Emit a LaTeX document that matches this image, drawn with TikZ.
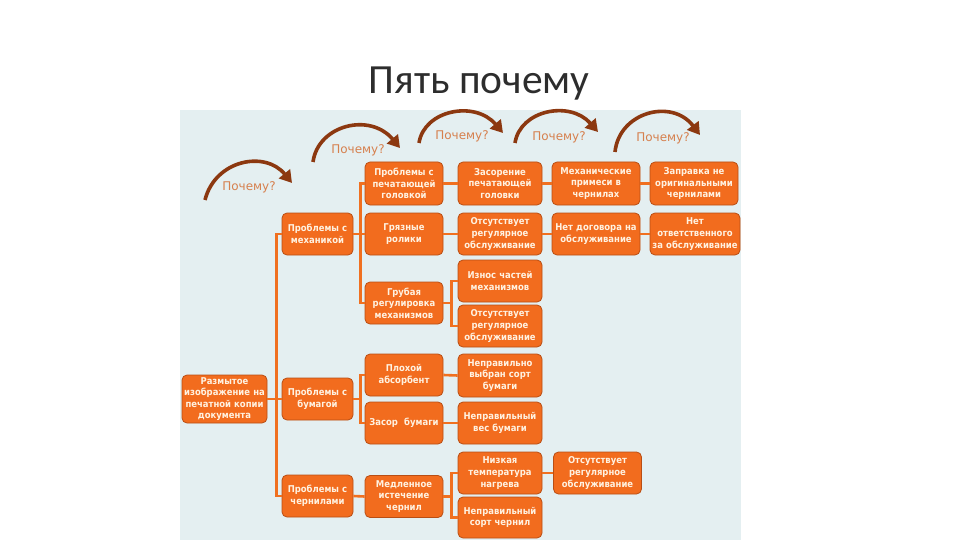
\documentclass[tikz,border=0pt]{standalone}
\usepackage{fontspec}
\setmainfont{DejaVu Sans}
\newfontfamily\titlefont{Carlito}
\newfontfamily\boxfont{DejaVu Sans}[FakeStretch=0.9]
\usetikzlibrary{arrows.meta}
\definecolor{panel}{RGB}{228,239,241}
\definecolor{boxfill}{RGB}{242,108,30}
\definecolor{boxedge}{RGB}{185,78,20}
\definecolor{boxtext}{RGB}{255,242,225}
\definecolor{linecol}{RGB}{240,112,32}
\definecolor{whycol}{RGB}{214,128,78}
\definecolor{arrcol}{RGB}{140,56,16}
\definecolor{titlecol}{RGB}{45,45,45}
\tikzset{
  box/.style={draw=boxedge, line width=0.8pt, fill=boxfill, rounded corners=5pt,
    text=boxtext, font=\boxfont\fontsize{9.4}{11.6}\selectfont\bfseries, align=center,
    inner sep=0pt, minimum height=42pt},
  w71/.style={minimum width=71pt, text width=71pt},
  w78/.style={minimum width=78pt, text width=78pt},
  w84/.style={minimum width=84pt, text width=84pt},
  w88/.style={minimum width=88pt, text width=88pt},
  link/.style={draw=linecol, line width=2.6pt},
  why/.style={text=whycol, font=\fontsize{12}{14}\selectfont},
  whyarrow/.style={draw=arrcol, line width=3.6pt, -{Triangle[length=12pt,width=14pt]}}
}
\begin{document}
\begin{tikzpicture}[x=1pt,y=-1pt]
\useasboundingbox (0,0) rectangle (960,540);
\fill[white] (0,0) rectangle (960,540);
\fill[panel] (180,110) rectangle (741,540);
\node[anchor=base, text=titlecol, font=\titlefont\fontsize{41.5}{46}\selectfont] (title) at (479,94) {Пять почему};

% why arrows
\draw[whyarrow] (205,200) .. controls (215,160) and (265,150) .. (292,183);
\draw[whyarrow] (313,162) .. controls (318,125) and (370,112) .. (400,148);
\draw[whyarrow] (419,143) .. controls (424,110) and (475,100) .. (503,133);
\draw[whyarrow] (515,143) .. controls (520,110) and (570,100) .. (598,132);
\draw[whyarrow] (615,152) .. controls (619,112) and (672,98) .. (700,135);
\node[why] (why1) at (249,187) {Почему?};
\node[why] (why2) at (358,150) {Почему?};
\node[why] (why3) at (462,136) {Почему?};
\node[why] (why4) at (559,137) {Почему?};
\node[why] (why5) at (663,138) {Почему?};

% boxes
\node[box, minimum width=85pt, text width=85pt, minimum height=48pt] (root) at (224.5,399) {Размытое\\изображение на\\печатной копии\\документа};
\node[box,w71] (mech) at (317.5,234) {Проблемы с\\механикой};
\node[box,w71] (paper) at (317.5,399) {Проблемы с\\бумагой};
\node[box,w71] (ink) at (317.5,496) {Проблемы с\\чернилами};

\node[box,w78,minimum height=43pt] (head) at (404,183.5) {Проблемы с\\печатающей\\головкой};
\node[box,w78] (dirty) at (404,234) {Грязные\\ролики};
\node[box,w78] (rough) at (404,303) {Грубая\\регулировка\\механизмов};
\node[box,w78] (absorb) at (404,375) {Плохой\\абсорбент};
\node[box,w78] (jam) at (404,423) {Засор\ \ бумаги};
\node[box,w78] (slow) at (404,496.5) {Медленное\\истечение\\чернил};

\node[box,w84,minimum height=43pt] (clog) at (500,183.5) {Засорение\\печатающей\\головки};
\node[box,w84] (maint1) at (500,234) {Отсутствует\\регулярное\\обслуживание};
\node[box,w84] (wear) at (500,281) {Износ частей\\механизмов};
\node[box,w84] (maint2) at (500,326) {Отсутствует\\регулярное\\обслуживание};
\node[box,w84,minimum height=43pt] (sortp) at (500,375.5) {Неправильно\\выбран сорт\\бумаги};
\node[box,w84] (weight) at (500,423) {Неправильный\\вес бумаги};
\node[box,w84] (lowtemp) at (500,473) {Низкая\\температура\\нагрева};
\node[box,w84,minimum height=41pt] (sorti) at (500,517.5) {Неправильный\\сорт чернил};

\node[box,w88,minimum height=43pt] (impur) at (596,183.5) {Механические\\примеси в\\чернилах};
\node[box,w88] (contract) at (596,234) {Нет договора на\\обслуживание};
\node[box,w88] (maint3) at (597.5,473) {Отсутствует\\регулярное\\обслуживание};

\node[box,w88,minimum height=43pt] (refill) at (694,183.5) {Заправка не\\оригинальными\\чернилами};
\node[box,minimum width=90pt,text width=90pt] (resp) at (695,234) {Нет\\ответственного\\за обслуживание};

% connectors
\draw[link] (root.east) -- (paper.west);
\draw[link] (mech.west) -- ++(-5,0) |- (ink.west);
\draw[link] (mech.east) -- (dirty.west);
\draw[link] (head.west) -- ++(-4,0) |- (rough.west);
\draw[link] (head.east) -- (clog.west);
\draw[link] (clog.east) -- (impur.west);
\draw[link] (impur.east) -- (refill.west);
\draw[link] (dirty.east) -- (maint1.west);
\draw[link] (maint1.east) -- (contract.west);
\draw[link] (contract.east) -- (resp.west);
\draw[link] (rough.east) -- ++(9,0);
\draw[link] (wear.west) -- ++(-6,0) |- (maint2.west);
\draw[link] (paper.east) -- ++(8,0);
\draw[link] (absorb.west) -- ++(-4,0) |- (jam.west);
\draw[link] (absorb.east) -- (sortp.west);
\draw[link] (jam.east) -- (weight.west);
\draw[link] (ink.east) -- (slow.west);
\draw[link] (slow.east) -- ++(9,0);
\draw[link] (lowtemp.west) -- ++(-6,0) |- (sorti.west);
\draw[link] (lowtemp.east) -- (maint3.west);
\end{tikzpicture}
\end{document}
